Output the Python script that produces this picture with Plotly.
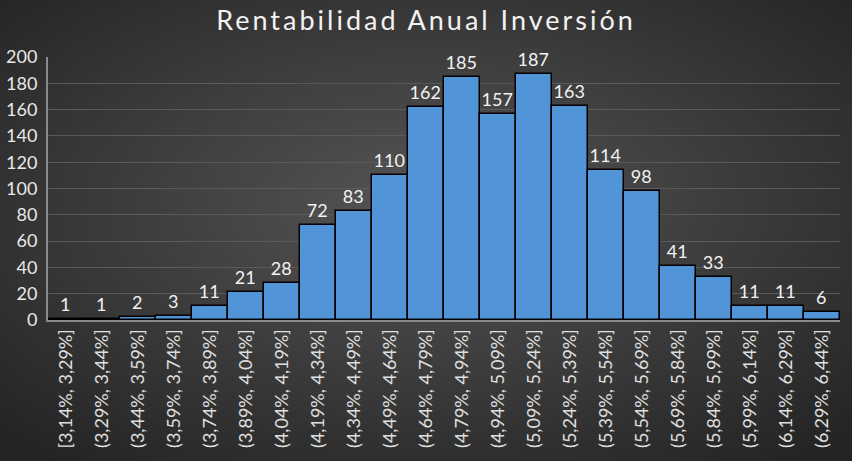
import base64
import plotly.graph_objects as go

bins = ["[3,14%, 3,29%]", "(3,29%, 3,44%]", "(3,44%, 3,59%]", "(3,59%, 3,74%]",
        "(3,74%, 3,89%]", "(3,89%, 4,04%]", "(4,04%, 4,19%]", "(4,19%, 4,34%]",
        "(4,34%, 4,49%]", "(4,49%, 4,64%]", "(4,64%, 4,79%]", "(4,79%, 4,94%]",
        "(4,94%, 5,09%]", "(5,09%, 5,24%]", "(5,24%, 5,39%]", "(5,39%, 5,54%]",
        "(5,54%, 5,69%]", "(5,69%, 5,84%]", "(5,84%, 5,99%]", "(5,99%, 6,14%]",
        "(6,14%, 6,29%]", "(6,29%, 6,44%]"]
counts = [1, 1, 2, 3, 11, 21, 28, 72, 83, 110, 162, 185, 157, 187, 163, 114, 98, 41, 33, 11, 11, 6]
y_ticks = list(range(0, 201, 20))
title_text = "Rentabilidad Anual Inversión"

W, H = 852, 461
ML, MR, MT, MB = 48, 12, 57, 141
PW, PH = W - ML - MR, H - MT - MB

svg = ('<svg xmlns="http://www.w3.org/2000/svg" width="852" height="461" preserveAspectRatio="none">'
       '<defs><radialGradient id="g" cx="50%" cy="45%" r="70%">'
       '<stop offset="0" stop-color="#555555"/><stop offset="1" stop-color="#242424"/>'
       '</radialGradient></defs><rect width="852" height="461" fill="url(#g)"/></svg>')
bg = "data:image/svg+xml;base64," + base64.b64encode(svg.encode()).decode()

font = "Lato, 'Open Sans', sans-serif"

fig = go.Figure(go.Bar(
    x=bins, y=counts,
    marker=dict(color="#5294d8", line=dict(color="#000000", width=1.5)),
    text=[str(c) for c in counts], textposition="outside", cliponaxis=False,
    textfont=dict(color="#f2f2f2", size=18, family=font),
    hoverinfo="skip",
))

fig.update_layout(
    width=W, height=H,
    margin=dict(l=ML, r=MR, t=MT, b=MB, autoexpand=False),
    paper_bgcolor="#3a3a3a", plot_bgcolor="rgba(0,0,0,0)",
    bargap=0,
    title=dict(text='<span style="letter-spacing:3px">' + title_text + '</span>',
               x=0.5, xanchor="center", y=0.956, yanchor="middle",
               font=dict(color="#f2f2f2", size=27, family=font)),
    images=[dict(source=bg, xref="paper", yref="paper",
                 x=-ML / PW, y=1 + MT / PH, sizex=W / PW, sizey=H / PH,
                 xanchor="left", yanchor="top",
                 layer="below", sizing="stretch")],
    showlegend=False,
)
fig.update_xaxes(tickangle=-90, tickfont=dict(color="#e0e0e0", size=18, family=font),
                 showline=True, linecolor="#8a8a8a", linewidth=2, showgrid=False,
                 ticks="", automargin=False)
fig.update_yaxes(range=[0, 200], tickvals=y_ticks, tickfont=dict(color="#e8e8e8", size=18, family=font),
                 showline=True, linecolor="#8a8a8a", linewidth=2, ticklabelstandoff=5,
                 gridcolor="#5a5a5a", gridwidth=1, zeroline=False, ticks="", automargin=False)

fig.write_html("out.html", config={"displayModeBar": False},
               post_script="document.body.style.margin='0';")
